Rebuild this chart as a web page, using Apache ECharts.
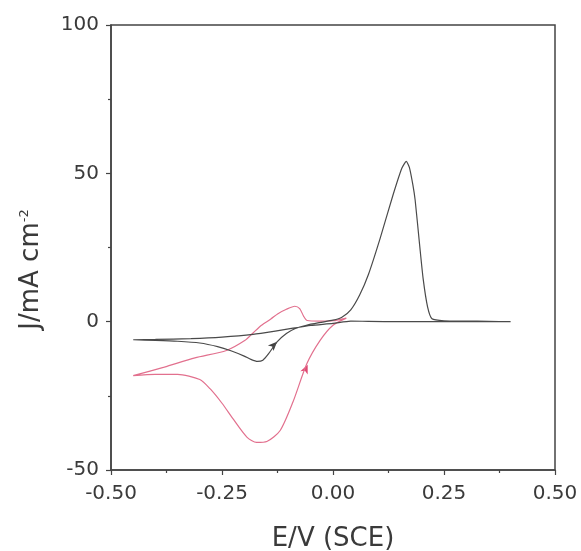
<!DOCTYPE html>
<html><head><meta charset="utf-8">
<script src="https://cdn.jsdelivr.net/npm/echarts@6/dist/echarts.min.js"></script>
<style>html,body{margin:0;padding:0;background:#fff}#c{width:581px;height:551px}</style>
</head><body><div id="c"></div>
<script>
// Tick values
const xTicks = [-0.50, -0.25, 0.00, 0.25, 0.50];
const yTicks = [-50, 0, 50, 100];

// Black CV loop (E / V vs J / mA cm-2)
const blackE = [-0.45,-0.40,-0.35,-0.30,-0.26,-0.23,-0.20,-0.185,-0.17,-0.158,-0.145,-0.126,-0.105,-0.086,-0.06,-0.03,0.00,0.02,0.04,0.06,0.08,0.106,0.135,0.155,0.165,0.172,0.18,0.185,0.195,0.203,0.213,0.223,0.25,0.30,0.35,0.40,0.35,0.25,0.15,0.08,0.04,0.00,-0.05,-0.09,-0.13,-0.18,-0.25,-0.32,-0.40,-0.45];
const blackJ = [-6.1,-6.3,-6.6,-7.2,-8.4,-9.8,-11.6,-12.7,-13.4,-13.0,-10.8,-6.8,-4.0,-2.4,-1.2,-0.3,0.5,1.5,4.0,9.0,16.0,28.0,42.6,51.7,54.0,52.0,46.0,41.0,26.0,14.5,5.0,1.0,0.3,0.2,0.1,0.0,0.0,0.0,0.0,0.1,0.2,-0.6,-1.3,-2.2,-3.2,-4.3,-5.2,-5.7,-6.0,-6.1];

// Red CV loop
const redE = [-0.45,-0.40,-0.35,-0.30,-0.277,-0.25,-0.225,-0.194,-0.172,-0.149,-0.119,-0.09,-0.059,-0.029,0.00,0.03,0.00,-0.03,-0.058,-0.066,-0.075,-0.086,-0.105,-0.124,-0.14,-0.161,-0.18,-0.198,-0.24,-0.311,-0.38,-0.45];
const redJ = [-18.2,-17.8,-17.8,-19.5,-22.6,-27.5,-32.8,-38.9,-40.7,-40.4,-36.7,-27.0,-14.2,-6.3,-1.2,1.2,0.3,0.2,0.4,1.8,4.4,5.2,4.2,2.7,0.9,-1.2,-3.8,-6.3,-9.7,-12.2,-15.3,-18.2];

// Direction arrows: position
const blackArrow = [-0.126, -6.8];
const redArrow = [-0.057, -14.5];

const zip = (a, b) => a.map((v, i) => [v, b[i]]);
const txt = '#3a3a3a';
const font = 'DejaVu Sans';

const chart = echarts.init(document.getElementById('c'), null, {renderer: 'canvas'});
chart.setOption({
  animation: false,
  backgroundColor: '#fff',
  grid: {left: 111, top: 25, right: 26, bottom: 81, show: true, borderColor: '#444', borderWidth: 1.5,
         containLabel: false, outerBoundsMode: 'none'},
  xAxis: {
    type: 'value', min: xTicks[0], max: xTicks[xTicks.length - 1], interval: 0.25,
    name: 'E/V (SCE)', nameLocation: 'middle', nameGap: 56,
    nameTextStyle: {fontSize: 26, fontFamily: font, color: txt},
    axisLine: {show: true, onZero: false, lineStyle: {color: '#444', width: 1.5}},
    axisTick: {show: true, inside: false, length: 5, lineStyle: {color: '#444', width: 1.2}},
    minorTick: {show: true, splitNumber: 2, length: 3, lineStyle: {color: '#444', width: 1.2}},
    splitLine: {show: false},
    axisLabel: {fontSize: 20, fontFamily: font, color: txt, margin: 14, formatter: v => v.toFixed(2)}
  },
  yAxis: {
    type: 'value', min: yTicks[0], max: yTicks[yTicks.length - 1], interval: 50,
    name: 'J/mA cm{sup|-2}', nameLocation: 'middle', nameGap: 67,
    nameTextStyle: {fontSize: 26, fontFamily: font, color: txt, padding: [0, 44, 0, 0],
      rich: {sup: {fontSize: 13, fontFamily: font, color: txt, verticalAlign: 'top'}}},
    axisLine: {show: true, onZero: false, lineStyle: {color: '#444', width: 1.5}},
    axisTick: {show: true, inside: false, length: 5, lineStyle: {color: '#444', width: 1.2}},
    minorTick: {show: true, splitNumber: 2, length: 3, lineStyle: {color: '#444', width: 1.2}},
    splitLine: {show: false},
    axisLabel: {fontSize: 20, fontFamily: font, color: txt, margin: 12}
  },
  series: [
    {type: 'line', data: zip(redE, redJ), showSymbol: false, smooth: 0.25,
     lineStyle: {color: '#e2708e', width: 1.2}},
    {type: 'line', data: zip(blackE, blackJ), showSymbol: false, smooth: 0.2,
     lineStyle: {color: '#4a4a4a', width: 1.2}},
    {type: 'scatter', data: [blackArrow], symbol: 'arrow', symbolSize: [6, 9], symbolRotate: -45,
     itemStyle: {color: '#111'}},
    {type: 'scatter', data: [redArrow], symbol: 'arrow', symbolSize: [6, 9], symbolRotate: -24,
     itemStyle: {color: '#d81b50'}}
  ]
});
</script></body></html>
